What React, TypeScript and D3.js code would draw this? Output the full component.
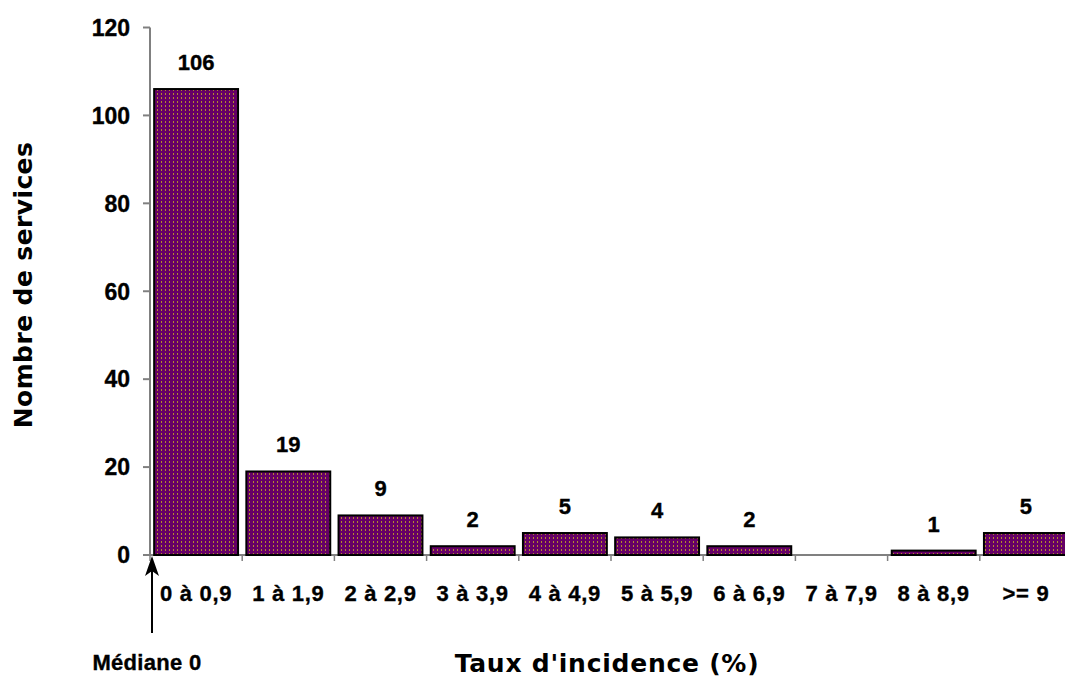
import React from "react";
import * as d3 from "d3";

const categories = ["0 à 0,9", "1 à 1,9", "2 à 2,9", "3 à 3,9", "4 à 4,9", "5 à 5,9", "6 à 6,9", "7 à 7,9", "8 à 8,9", ">= 9"];
const counts = [106, 19, 9, 2, 5, 4, 2, 0, 1, 5];
const yTicks = [0, 20, 40, 60, 80, 100, 120];
const xTitle = "Taux d'incidence (%)";
const yTitle = "Nombre de services";
const medianLabel = "Médiane 0";

const W = 1065;
const H = 678;
const left = 150;
const bottom = 555;
const top = 27.5;

export default function App() {
  const x = d3
    .scaleBand<string>()
    .domain(categories)
    .range([left, left + 922])
    .paddingInner(0.09)
    .paddingOuter(0.045);
  const y = d3.scaleLinear().domain([0, 120]).range([bottom, top]);
  const step = x.step();
  const boundaries = d3.range(categories.length + 1).map((i) => left + i * step);
  const tickFont = "'Liberation Sans', Arial, sans-serif";
  const titleFont = "'DejaVu Sans', sans-serif";
  const heavy = { stroke: "#000", strokeWidth: 0.35 };

  return (
    <svg
      width={W}
      height={H}
      style={{ position: "fixed", left: 0, top: 0, background: "#fff" }}
    >
      <defs>
        <pattern id="dots" width={4} height={4} patternUnits="userSpaceOnUse">
          <rect width={4} height={4} fill="#660066" />
          <rect x={1} y={1} width={1} height={2} fill="#b38a2e" />
        </pattern>
      </defs>
      {/* y axis */}
      <line x1={left} x2={left} y1={top} y2={bottom} stroke="#808080" strokeWidth={2} />
      {yTicks.map((t) => (
        <g key={t}>
          <line x1={left - 7} x2={left} y1={y(t)} y2={y(t)} stroke="#808080" strokeWidth={2} />
          <text
            x={130}
            y={y(t)}
            dy="0.36em"
            textAnchor="end"
            fontFamily={tickFont}
            fontWeight="bold"
            fontSize={23}
            fill="#000"
            {...heavy}
          >
            {t}
          </text>
        </g>
      ))}
      {/* x axis */}
      <line x1={left - 7} x2={W} y1={bottom} y2={bottom} stroke="#808080" strokeWidth={2} />
      {boundaries.map((b, i) => (
        <line key={i} x1={b} x2={b} y1={bottom} y2={bottom + 6} stroke="#808080" strokeWidth={1.5} />
      ))}
      {/* bars */}
      {categories.map((c, i) => {
        const v = counts[i];
        const x0 = x(c)!;
        return (
          <g key={c}>
            {v > 0 && (
              <rect
                x={x0}
                y={y(v)}
                width={x.bandwidth()}
                height={bottom - y(v)}
                fill="url(#dots)"
                stroke="#000"
                strokeWidth={2}
              />
            )}
            {v > 0 && (
              <text
                x={x0 + x.bandwidth() / 2}
                y={y(v) - 27}
                dy="0.36em"
                textAnchor="middle"
                fontFamily={tickFont}
                fontWeight="bold"
                fontSize={22}
                {...heavy}
              >
                {v}
              </text>
            )}
            <text
              x={x0 + x.bandwidth() / 2}
              y={593}
              dy="0.36em"
              textAnchor="middle"
              fontFamily={tickFont}
              fontWeight="bold"
              fontSize={22}
              letterSpacing={0.7}
              {...heavy}
            >
              {c}
            </text>
          </g>
        );
      })}
      {/* median arrow */}
      <line x1={152} x2={152} y1={633} y2={570} stroke="#000" strokeWidth={2} />
      <path d="M152,556 L145,576 L152,571 L159,576 Z" fill="#000" />
      <text
        x={147}
        y={662}
        dy="0.36em"
        textAnchor="middle"
        fontFamily={tickFont}
        fontWeight="bold"
        fontSize={22}
        letterSpacing={0.3}
        {...heavy}
      >
        {medianLabel}
      </text>
      {/* titles */}
      <text
        x={607}
        y={663}
        dy="0.36em"
        textAnchor="middle"
        fontFamily={titleFont}
        fontWeight="bold"
        fontSize={25}
        letterSpacing={0.75}
      >
        {xTitle}
      </text>
      <text
        transform={`translate(23,285) rotate(-90)`}
        dy="0.36em"
        textAnchor="middle"
        fontFamily={titleFont}
        fontWeight="bold"
        fontSize={25}
        letterSpacing={0.4}
      >
        {yTitle}
      </text>
    </svg>
  );
}
